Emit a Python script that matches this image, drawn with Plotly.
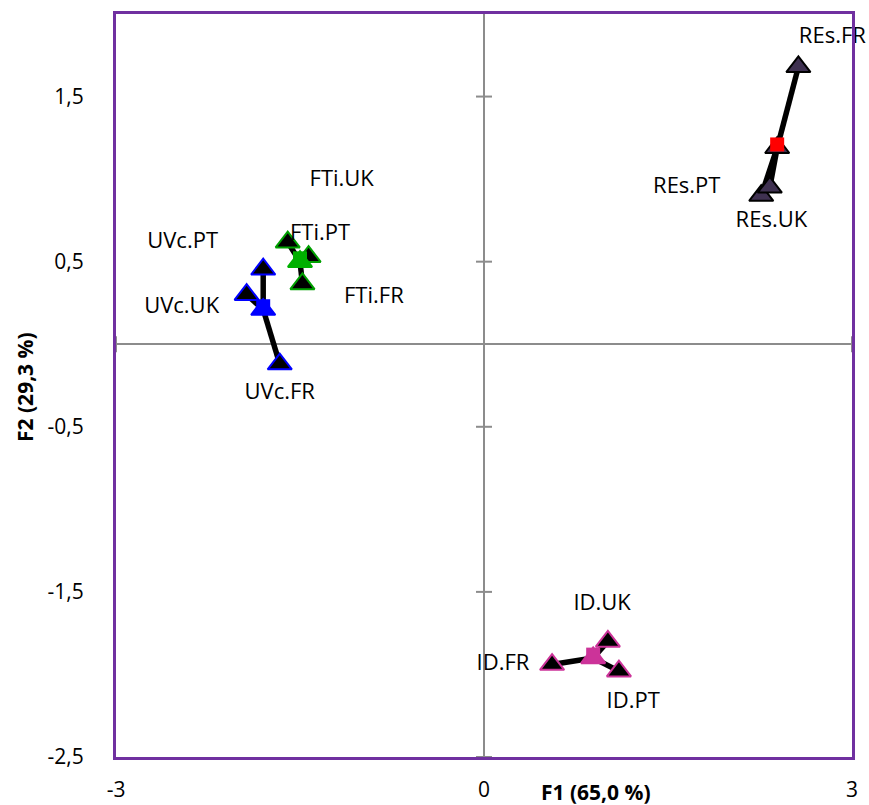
import plotly.graph_objects as go

# Factor scores (F1, F2) of each treatment by country, plus group centroids
groups = ["UVc", "FTi", "REs", "ID"]
countries = ["PT", "UK", "FR"]

uvc_f1 = [-1.80, -1.935, -1.665]
uvc_f2 = [0.454, 0.30, -0.12]
fti_f1 = [-1.60, -1.43, -1.48]
fti_f2 = [0.618, 0.53, 0.365]
res_f1 = [2.26, 2.33, 2.563]
res_f2 = [0.90, 0.95, 1.68]
id_f1 = [1.10, 1.01, 0.555]
id_f2 = [-1.98, -1.80, -1.94]

centroid_f1 = [-1.80, -1.50, 2.39, 0.89]
centroid_f2 = [0.21, 0.50, 1.19, -1.90]

# Where each point's name is written
uvc_lab_f1 = [-2.457, -2.465, -1.665]
uvc_lab_f2 = [0.617, 0.22, -0.30]
fti_lab_f1 = [-1.337, -1.16, -0.898]
fti_lab_f2 = [0.666, 0.993, 0.285]
res_lab_f1 = [1.653, 2.343, 2.84]
res_lab_f2 = [0.95, 0.745, 1.857]
id_lab_f1 = [1.216, 0.963, 0.155]
id_lab_f2 = [-2.17, -1.575, -1.94]

marker_line = {"UVc": "#0000FF", "FTi": "#00A000", "REs": "#000000", "ID": "#CC3399"}
marker_fill = {"UVc": "#000000", "FTi": "#000000", "REs": "#3F3151", "ID": "#000000"}
centroid_col = {"UVc": "#0000FF", "FTi": "#00B000", "REs": "#FF0000", "ID": "#CC3399"}

data = {
    "UVc": (uvc_f1, uvc_f2, uvc_lab_f1, uvc_lab_f2),
    "FTi": (fti_f1, fti_f2, fti_lab_f1, fti_lab_f2),
    "REs": (res_f1, res_f2, res_lab_f1, res_lab_f2),
    "ID": (id_f1, id_f2, id_lab_f1, id_lab_f2),
}

x_ticks = [-3, 0, 3]
y_ticks = [1.5, 0.5, -0.5, -1.5, -2.5]

fig = go.Figure()

# Spokes from centroid to each country point
for gi, g in enumerate(groups):
    f1, f2, _, _ = data[g]
    xs, ys = [], []
    for a, b in zip(f1, f2):
        xs += [centroid_f1[gi], a, None]
        ys += [centroid_f2[gi], b, None]
    fig.add_trace(go.Scatter(x=xs, y=ys, mode="lines",
                             line=dict(color="black", width=5.5),
                             hoverinfo="skip", showlegend=False))

# Country points
for g in groups:
    f1, f2, _, _ = data[g]
    fig.add_trace(go.Scatter(
        x=f1, y=f2, mode="markers",
        marker=dict(symbol="triangle-up", size=21, color=marker_fill[g],
                    line=dict(color=marker_line[g], width=2)),
        text=[f"{g}.{c}" for c in countries], showlegend=False))

# Centroids: triangle under a square
for gi, g in enumerate(groups):
    fig.add_trace(go.Scatter(
        x=[centroid_f1[gi]], y=[centroid_f2[gi]], mode="markers",
        marker=dict(symbol="triangle-up", size=21,
                    color=marker_fill[g] if g == "REs" else centroid_col[g],
                    line=dict(color="black" if g == "REs" else centroid_col[g], width=2)),
        hoverinfo="skip", showlegend=False))
    fig.add_trace(go.Scatter(
        x=[centroid_f1[gi]], y=[centroid_f2[gi] + 0.02], mode="markers",
        marker=dict(symbol="square", size=14, color=centroid_col[g],
                    line=dict(width=0)),
        text=[g], showlegend=False))

# Point names
for g in groups:
    _, _, lx, ly = data[g]
    fig.add_trace(go.Scatter(
        x=lx, y=ly, mode="text", text=[f"{g}.{c}" for c in countries],
        textfont=dict(family="Open Sans, Calibri, sans-serif", size=22, color="black"),
        textposition="middle center", cliponaxis=False,
        hoverinfo="skip", showlegend=False))

# Tick marks crossing the zero axes
shapes = []
for t in y_ticks:
    shapes.append(dict(type="line", xref="x", yref="y", xsizemode="pixel", xanchor=0,
                       x0=-8, x1=8, y0=t, y1=t, line=dict(color="#8C8C8C", width=2),
                       layer="below"))
for t in x_ticks:
    shapes.append(dict(type="line", xref="x", yref="y", ysizemode="pixel", yanchor=0,
                       x0=t, x1=t, y0=-8, y1=8, line=dict(color="#8C8C8C", width=2),
                       layer="below"))

fig.update_layout(
    width=869, height=805,
    margin=dict(l=116, r=17, t=14, b=48, autoexpand=False),
    paper_bgcolor="white", plot_bgcolor="white",
    font=dict(family="Open Sans, Calibri, sans-serif", size=21, color="black"),
    shapes=shapes,
    xaxis=dict(range=[-3, 3], tickvals=x_ticks,
               ticktext=[str(v) for v in x_ticks], automargin=False,
               showgrid=False, zeroline=True, zerolinecolor="#8C8C8C", zerolinewidth=2,
               showline=True, linecolor="#7030A0", linewidth=3, mirror=True,
               ticks="", ticklabelstandoff=12, tickfont=dict(size=21)),
    yaxis=dict(range=[-2.5, 2.0], tickvals=y_ticks,
               ticktext=[f"{v:.1f}".replace(".", ",") for v in y_ticks], automargin=False,
               showgrid=False, zeroline=True, zerolinecolor="#8C8C8C", zerolinewidth=2,
               showline=True, linecolor="#7030A0", linewidth=3, mirror=True,
               ticks="", ticklabelstandoff=25, tickfont=dict(size=21)),
    annotations=[
        dict(text="<b>F1 (65,0 %)</b>", xref="paper", yref="paper",
             x=0.652, y=0, yshift=-35, showarrow=False, yanchor="middle",
             font=dict(size=21)),
        dict(text="<b>F2 (29,3 %)</b>", xref="paper", yref="paper",
             x=0, y=0.498, xshift=-91, xanchor="center", textangle=-90,
             showarrow=False, font=dict(size=21)),
    ],
)

fig.write_html("out.html")
